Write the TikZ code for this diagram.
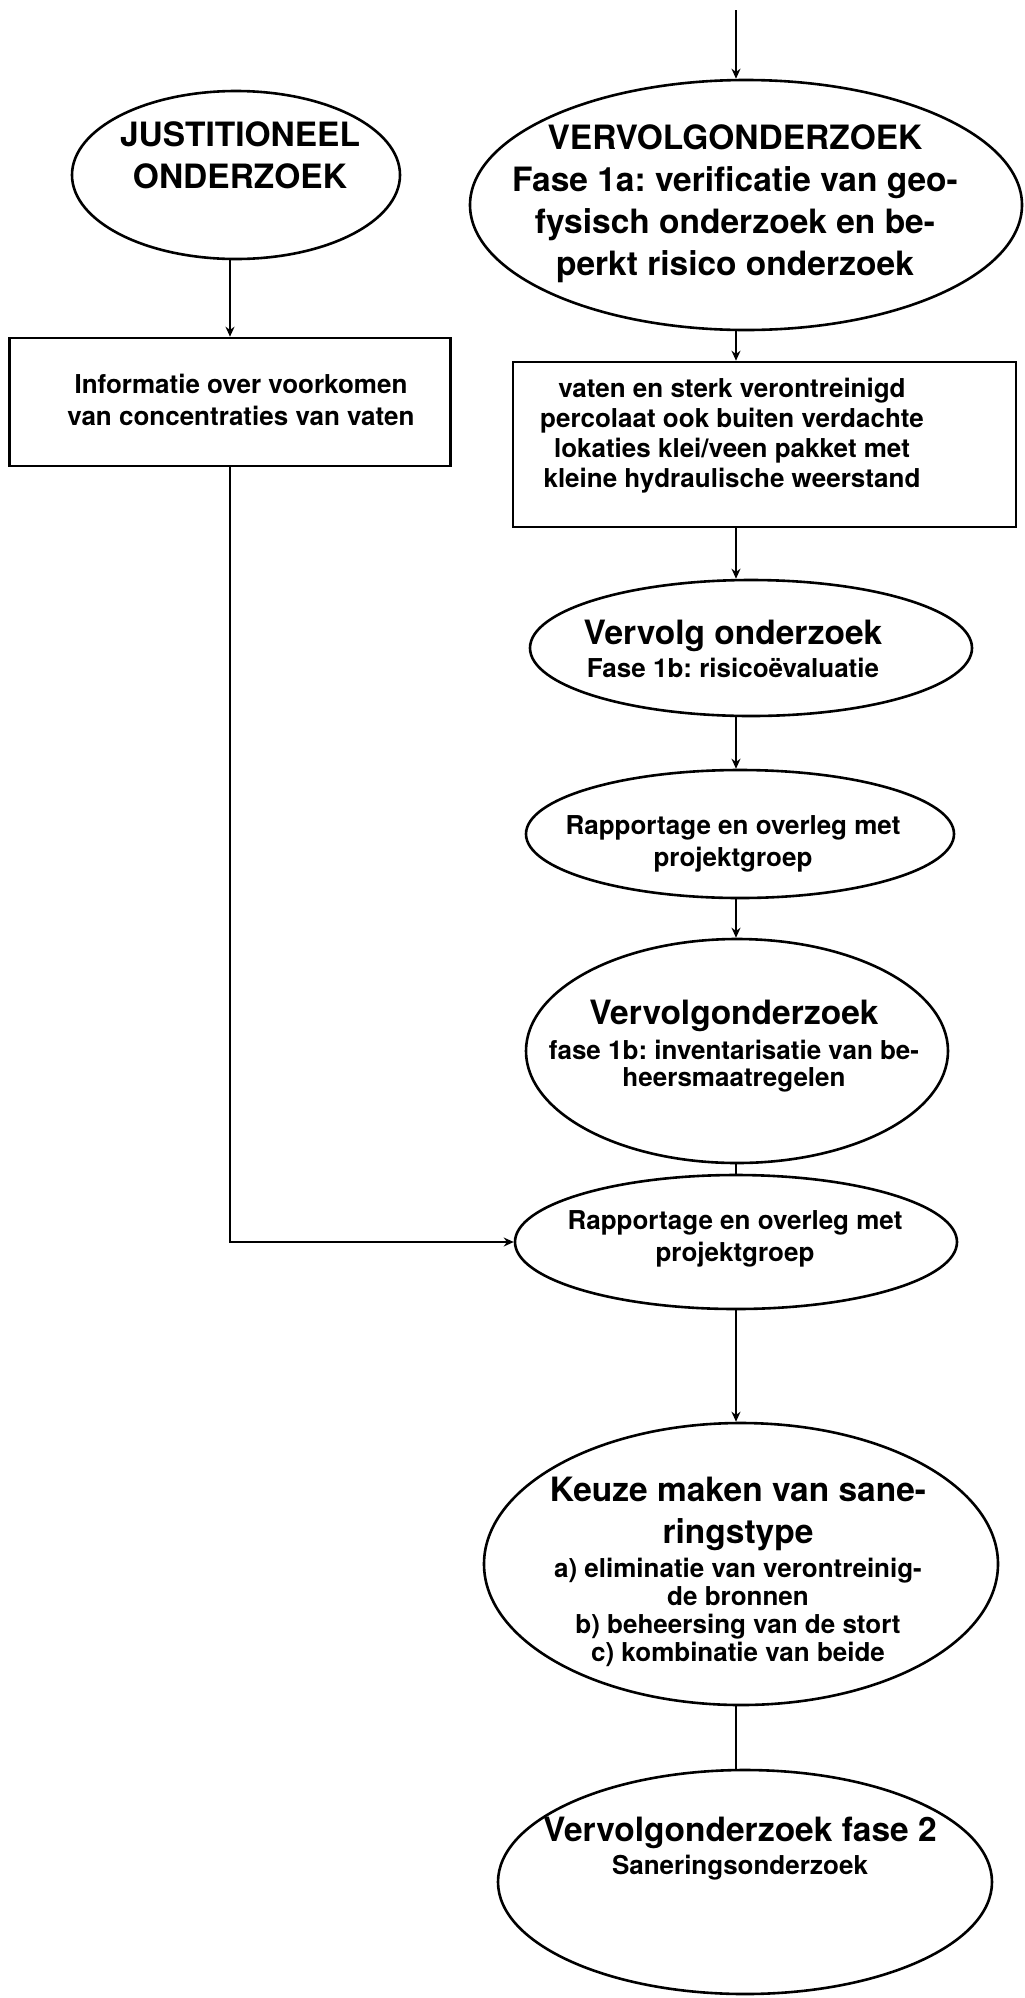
\documentclass[tikz,border=0pt]{standalone}
\usepackage{fontspec}
\setmainfont{TeX Gyre Heros}
\usetikzlibrary{shapes.geometric, arrows.meta}
\tikzstyle{arrow} = [line width=1.3pt,-{Stealth[length=5pt,width=4.5pt]}]
\tikzstyle{link} = [line width=1.3pt]
\tikzstyle{oval} = [ellipse, draw, line width=1.3pt, inner sep=0pt]
\tikzstyle{kader} = [rectangle, draw, line width=1.3pt, inner sep=0pt]
\tikzstyle{tekst} = [anchor=north, align=center, inner sep=0pt]
\newcommand{\groot}{\fontsize{16.75}{21}\selectfont\bfseries}
\newcommand{\klein}[1][15]{\fontsize{13}{#1}\selectfont\bfseries}
\lineskiplimit=-20pt
\frenchspacing

\begin{document}
\begin{tikzpicture}[x=0.5pt,y=-0.5pt]
            \useasboundingbox (0,0) rectangle (1024,1998);
            \coordinate (in) at (736,10);
            \coordinate (spine) at (736,0);

            % linker kolom
            \node (jo) [oval, minimum width=164pt, minimum height=84pt] at (236,175) {};
            \node (info) [kader, minimum width=220.5pt, minimum height=64pt] at (230,402) {};

            % rechter kolom
            \node (vo1a) [oval, minimum width=276pt, minimum height=125pt] at (746,205) {};
            \node (perc) [kader, minimum width=251.5pt, minimum height=82.5pt] at (764.5,444.5) {};
            \node (vo1b) [oval, minimum width=221pt, minimum height=68pt] at (751,648) {};
            \node (rap1) [oval, minimum width=214pt, minimum height=64pt] at (740,834) {};
            \node (vo1bi) [oval, minimum width=211pt, minimum height=112pt] at (737,1051) {};
            \node (rap2) [oval, minimum width=221pt, minimum height=67pt] at (736,1242) {};
            \node (keuze) [oval, minimum width=257pt, minimum height=141pt] at (741,1564) {};
            \node (vo2) [oval, minimum width=247pt, minimum height=112pt] at (745,1882) {};

            % teksten
            \node (jo-t) [tekst, font=\groot] at (240,121) {JUSTITIONEEL\\ONDERZOEK};
            \node (info-t) [tekst, font={\klein[16]}] at (241,374) {Informatie over voorkomen\\van concentraties van vaten};
            \node (vo1a-t) [tekst, font=\groot] at (735,124) {VERVOLGONDERZOEK\\Fase 1a: verificatie van geo-\\fysisch onderzoek en be-\\perkt risico onderzoek};
            \node (perc-t) [tekst, font=\klein] at (732,378) {vaten en sterk verontreinigd\\percolaat ook buiten verdachte\\lokaties klei/veen pakket met\\kleine hydraulische weerstand};
            \node (vo1b-t) [tekst, font=\klein] at (733,620) {{\groot Vervolg onderzoek}\\[1.5pt]Fase 1b: risicoëvaluatie};
            \node (rap1-t) [tekst, font=\klein] at (733,815) {Rapportage en overleg met\\[1pt]projektgroep};
            \node (vo1bi-t) [tekst, font={\klein[13.5]}] at (734,1000) {{\groot Vervolgonderzoek}\\[4pt]fase 1b: inventarisatie van be-\\heersmaatregelen};
            \node (rap2-t) [tekst, font=\klein] at (735,1210) {Rapportage en overleg met\\[1pt]projektgroep};
            \node (keuze-t) [tekst, font={\klein[14]}] at (738,1477) {{\groot Keuze maken van sane-}\\[6.75pt]{\groot ringstype}\\[3.2pt]a) eliminatie van verontreinig-\\de bronnen\\b) beheersing van de stort\\c) kombinatie van beide};
            \node (vo2-t) [tekst, font={\klein[16.2]}] at (740,1817) {{\groot Vervolgonderzoek fase 2}\\Saneringsonderzoek};

            % verbindingen
            \draw [arrow] (in) -- (in |- vo1a.north);
            \draw [arrow] (jo.south -| info.north) -- (info.north);
            \draw [arrow] (spine |- vo1a.south) -- (spine |- perc.north);
            \draw [arrow] (spine |- perc.south) -- (spine |- vo1b.north);
            \draw [arrow] (spine |- vo1b.south) -- (spine |- rap1.north);
            \draw [arrow] (spine |- rap1.south) -- (spine |- vo1bi.north);
            \draw [link] (spine |- vo1bi.south) -- (spine |- rap2.north);
            \draw [arrow] (info.south) |- (rap2.west);
            \draw [arrow] (spine |- rap2.south) -- (spine |- keuze.north);
            \draw [link] (spine |- keuze.south) -- (spine |- vo2.north);
        \end{tikzpicture}
\end{document}
